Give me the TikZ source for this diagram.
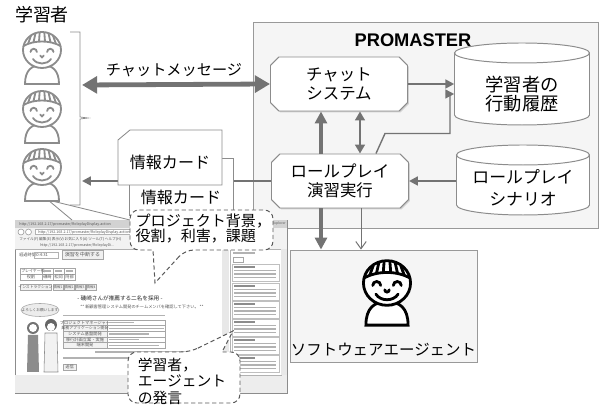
\documentclass[tikz,border=0pt]{standalone}
\usepackage{fontspec}
\setmainfont{Noto Sans CJK JP}
\newfontfamily\latinsans{Liberation Sans}
\usetikzlibrary{arrows.meta, positioning, shapes.misc, shadows, calc}

\newcommand\pxu{0.25mm}

\tikzset{
  person/.pic={
    \filldraw[pic actions, fill=white] (-17,-34) .. controls (-17,-20) and (-10,-15) .. (0,-15)
        .. controls (10,-15) and (17,-20) .. (17,-34) -- cycle;
    \filldraw[pic actions, fill=white] (0,0) ellipse[x radius=19, y radius=18];
    \draw[pic actions] (-18.5,4) .. controls (-8,10) and (8,10) .. (18.5,4);
    \foreach \xa/\ya/\xb/\yb in {-14/6/-11/14.3, -8.5/7.8/-6.5/16.8, -3/8.5/-2.3/17.8,
                                  3/8.5/2.3/17.8, 8.5/7.8/6.5/16.8, 14/6/11/14.3}
      \draw[pic actions] (\xa,\ya) -- (\xb,\yb);
    \draw[pic actions, line cap=round] (-11.5,-2) arc[start angle=180, end angle=0, radius=3.2];
    \draw[pic actions, line cap=round] (5.1,-2) arc[start angle=180, end angle=0, radius=3.2];
    \draw[pic actions, line cap=round] (-1.8,-5.5) arc[start angle=180, end angle=360, radius=1.8];
    \draw[pic actions, line cap=round] (-9,-9) .. controls (-5,-15) and (5,-15) .. (9,-9);
  }
}

\begin{document}
\begin{tikzpicture}[x=\pxu, y=\pxu,
    system/.style={draw=black!40, fill=gray!8, line width=0.6pt,
                   drop shadow={shadow xshift=1pt, shadow yshift=-1pt, opacity=.3}},
    process/.style={chamfered rectangle, chamfered rectangle xsep=3pt,
                    chamfered rectangle ysep=3pt, draw=black!45, fill=white,
                    line width=0.7pt,
                    drop shadow={shadow xshift=1pt, shadow yshift=-1pt, opacity=.3},
                    minimum width=137*\pxu, minimum height=54*\pxu, align=center,
                    font=\fontsize{11.7}{13.4}\selectfont},
    store/.style={draw=black!45, fill=white, line width=0.7pt},
    card/.style={draw=black!45, fill=white, line width=0.6pt},
    note/.style={draw=black!65, fill=white, line width=0.7pt,
                 dash pattern=on 3pt off 2pt},
    bigarrow/.style={{Triangle[length=3.8mm,width=4.2mm]}-{Triangle[length=3.8mm,width=4.2mm]},
                     line width=1.2mm, draw=black!55},
    thickarrow/.style={-{Triangle[length=3mm,width=3mm]}, line width=1mm, draw=black!55},
    pairarrow/.style={{Triangle[length=2.2mm,width=2.4mm]}-{Triangle[length=2.2mm,width=2.4mm]},
                      line width=0.6mm, draw=black!55},
    arrow/.style={-{Triangle[length=2.2mm,width=2.2mm]}, line width=0.5mm, draw=black!55},
    thinarrow/.style={-{Triangle[length=2.2mm,width=2.2mm]}, line width=0.35mm, draw=black!55},
    openarrow/.style={-{Straight Barb[length=1.8mm,width=2.6mm]}, line width=0.25mm, draw=black!55},
    tinytext/.style={font=\fontsize{3}{3.4}\selectfont, text=black!65, inner sep=0pt, anchor=west},
    bar/.style={fill=black!30},
]
\useasboundingbox (0,0) rectangle (607,405);

% PROMASTER
\node[system, minimum width=345*\pxu, minimum height=206*\pxu] (pm) at (425.5,280) {};
\node[font=\latinsans\bfseries\fontsize{13}{15}\selectfont] (pmtitle) at (413,365) {PROMASTER};

\node[process] (chat) at (339,321) {チャット\\システム};
\node[process] (role) at (340,224) {ロールプレイ\\演習実行};

\coordinate (histc) at (522,321);
\filldraw[store] ($(histc)+(-67.5,31)$) -- ++(0,-62)
    arc[start angle=180, end angle=360, x radius=67.5, y radius=10] -- ++(0,62)
    arc[start angle=0, end angle=360, x radius=67.5, y radius=10];
\node[minimum width=135*\pxu, align=center, font=\fontsize{13}{13.6}\selectfont] (hist) at (522,311) {学習者の\\行動履歴};

\coordinate (scenc) at (523,225);
\filldraw[store] ($(scenc)+(-66.5,25)$) -- ++(0,-50)
    arc[start angle=180, end angle=360, x radius=66.5, y radius=10] -- ++(0,50)
    arc[start angle=0, end angle=360, x radius=66.5, y radius=10];
\node[minimum width=133*\pxu, align=center, font=\fontsize{12}{16}\selectfont] (scen) at (523,217) {ロールプレイ\\シナリオ};

\draw[thinarrow] ($(role.north)+(36,0)$) -- ++(9,20) -- ++(65,0) |- (hist.west);
\draw[arrow] (chat.east) -- (chat.east -| hist.west);
\draw[thickarrow] ($(role.north)+(-19,0)$) coordinate (rc1) -- (rc1 |- chat.south);
\draw[pairarrow] ($(role.north)+(20,0)$) coordinate (rc2) -- (rc2 |- chat.south);
\draw[arrow] (role.east -| scen.west) -- (role.east);

% learners side
\coordinate (lrnchat) at (82,320);
\coordinate (lrncard) at (82,224);
\draw[bigarrow] (lrnchat) -- (chat.west);
\node[font=\fontsize{10.8}{12}\selectfont] (chatmsg) at (174,335) {チャットメッセージ};
\draw[arrow] (role.west) -- (lrncard);

\draw[card] (129,190) rectangle (233,247);
\node[inner sep=1pt, font=\fontsize{11.4}{12}\selectfont] (card2) at (181,208) {情報カード};
\draw[card] (118,220) -- (118,265) -- (130,275) -- (222,275) -- (222,220) -- cycle;
\node[font=\fontsize{11.4}{12}\selectfont] (card1) at (170,243) {情報カード};

% agent
\node[system, minimum width=187*\pxu, minimum height=112*\pxu] (agent) at (383.5,99) {};
\pic[draw=black, line width=2pt, scale=1.24] (agentface) at (387,122) {person};
\node[font=\fontsize{11}{12}\selectfont] (agentlbl) at (383.5,55) {ソフトウェアエージェント};
\draw[thickarrow] ($(role.south)+(-19,0)$) coordinate (rc3) -- (rc3 |- agent.north);
\draw[openarrow] ($(role.south)+(21,0)$) coordinate (rc4) -- (rc4 |- agent.north);

% browser window
\draw[black!45, fill=white, line width=0.5pt] (15,12) rectangle (287,185);
\fill[gray!35] (15.3,177) rectangle (286.7,184.7);
\node[tinytext, font=\fontsize{2.6}{3}\selectfont] (wintitle) at (19,181) {http://192.168.2.17/promaster/RoleplayDisplay.action};
\node[tinytext, font=\fontsize{2.4}{3}\selectfont, anchor=east] (winapp) at (286,181) {Explorer};
\fill[gray!10] (15.3,156) rectangle (286.7,177);
\draw[black!40, fill=white] (21,173) circle[radius=3] (28.5,173) circle[radius=3];
\draw[black!30, fill=white] (35,170.5) rectangle (262,175.5);
\node[tinytext, font=\fontsize{2.6}{3}\selectfont] (addr) at (38,173) {http://192.168.2.17/promaster/RoleplayDisplay.action};
\node[tinytext, font=\fontsize{2.6}{3}\selectfont] (menu) at (19,166) {ファイル(F) 編集(E) 表示(V) お気に入り(A) ツール(T) ヘルプ(H)};
\node[tinytext, font=\fontsize{2.6}{3}\selectfont] (tab) at (40,159.5) {http://192.168.2.17/promaster/RoleplayDi...};
\draw[black!30] (15,156) -- (287,156);
\fill[gray!14] (15.3,12.3) rectangle (286.7,30);
\fill[gray!18] (222,30) rectangle (229,156);
\draw[black!30] (230,30) rectangle (281,156);
\fill[gray!18] (281,30) rectangle (286.7,156);

\node[tinytext] (elapsed) at (19,150) {経過時間:};
\draw[black!30] (34,147) rectangle (58,153);
\node[tinytext] (clock) at (36,150) {0:4:31};
\draw[black!35, fill=gray!12] (62,146) rectangle (103,155);
\node[tinytext, anchor=center, font=\fontsize{3.6}{4}\selectfont] (stopbtn) at (82.5,150.5) {演習を中断する};

\draw[black!35] (20,125) rectangle (75,137) (20,131) -- (75,131)
    (42,125) -- (42,137) (53,125) -- (53,137) (64,125) -- (64,137);
\node[tinytext, font=\fontsize{2.8}{3}\selectfont] (player) at (21,134) {プレイヤー役};
\node[tinytext, anchor=center] (rolehead) at (31,128) {役割};
\node[tinytext, anchor=center] (pa) at (47.5,128) {磯崎};
\node[tinytext, anchor=center] (pb) at (58.5,128) {松岡};
\node[tinytext, anchor=center] (pc) at (69.5,128) {阿部};
\foreach \x in {44,55,66} \fill[bar] (\x,133.4) rectangle (\x+7,134.6);

\draw[black!35, fill=gray!10] (20,115) rectangle (51,121);
\node[tinytext, anchor=center, font=\fontsize{2.7}{3}\selectfont] (instr) at (35.5,118) {インストラクション};
\foreach \i in {1,...,4} {
  \draw[black!35, fill=gray!10] (42+11*\i,115) rectangle (52+11*\i,121);
  \node[tinytext, anchor=center, font=\fontsize{2.5}{3}\selectfont] (info\i) at (47+11*\i,118) {情報\i};
}

\node[tinytext, anchor=center, font=\fontsize{4}{4.4}\selectfont, text=black!85] (scene) at (120,107) {- 磯崎さんが推薦する二名を採用 -};
\node[tinytext, anchor=center] (confirm) at (142,98) {** 新顧客管理システム開発のチームメンバを確認して下さい。 **};
\draw[black!35, fill=gray!15] (40,95) ellipse[x radius=19, y radius=6.5];
\node[tinytext, anchor=center, font=\fontsize{2.6}{3}\selectfont] (greet) at (40,95) {よろしくお願いします};
\fill[bar] (63,88.5) rectangle (165,89.7);

\fill[gray!10] (63,57) rectangle (107,85);
\draw[black!35] (63,57) rectangle (165,85) (107,57) -- (107,85);
\foreach \y in {62.6,68.2,73.8,79.4} \draw[black!35] (63,\y) -- (165,\y);
\node[tinytext, anchor=center] (rowa) at (85,82.2) {プロジェクトマネージャー};
\node[tinytext, anchor=center, font=\fontsize{2.8}{3}\selectfont] (rowb) at (85,76.6) {業務アプリケーション開発};
\node[tinytext, anchor=center] (rowc) at (85,71) {システム基盤開発};
\node[tinytext, anchor=center] (rowd) at (85,65.4) {移行計画立案・実施};
\node[tinytext, anchor=center] (rowe) at (85,59.8) {端末開発};
\foreach \y/\w in {82.2/25, 76.6/55, 71/40, 65.4/30, 59.8/50}
  \fill[bar] (109,\y-0.6) rectangle (109+\w,\y+0.6);
\fill[bar] (95,52.4) rectangle (200,53.6);
\fill[bar] (63,46.4) rectangle (135,47.6);
\draw[black!35, fill=gray!10] (63,35) rectangle (76,41);
\node[tinytext, anchor=center] (send) at (69.5,38) {送信};

\fill[black!55] (33,77) circle[radius=6];
\fill[black!45] (27,33) -- (39,33) -- (38,70) -- (28,70) -- cycle;
\fill[white] (33,77) circle[radius=4];
\draw[black!45, fill=gray!10] (44,33) -- (58,33) -- (57,72) -- (45,72) -- cycle;
\fill[black!60] (51,80) circle[radius=6];
\fill[white] (51,78) circle[radius=4];

\fill[bar] (233,151.4) rectangle (255,152.6);
\draw[black!35] (233,143) rectangle (243,148);
\foreach \y in {141,122,104,86,68,50} {
  \draw[black!25, fill=white] (232,\y-17) rectangle (279,\y);
  \fill[black!45] (234,\y-3.6) rectangle (255,\y-2.4);
  \foreach \k in {1,2,3} \fill[bar] (234,\y-3.6-3.5*\k) rectangle (276,\y-2.4-3.5*\k);
}

% learners
\draw[black!45, line width=0.6pt] (72,185) -- (48,205) -- (130,185);
\pic[draw=black!45, line width=1.3pt] (lrna) at (42,355) {person};
\pic[draw=black!45, line width=1.3pt] (lrnb) at (42,296) {person};
\pic[draw=black!45, line width=1.3pt] (lrnc) at (42,238) {person};
\node[font=\fontsize{12.8}{14}\selectfont] (learners) at (42,390) {学習者};
\draw[black!45, line width=0.5pt] (70,373) -- (80,373) -- (80,288) -- (88,287)
    -- (80,286) -- (80,200) -- (70,200);

% callouts
\draw[note] (185,155) -- (155,122) -- (153,155) [rounded corners=2.2mm]
    -- (130,155) -- (130,195) -- (273,195) -- (273,155) -- cycle;
\node[anchor=west, align=left, inner sep=1pt, font=\fontsize{10.7}{11}\selectfont] (bgnote) at (134,176.5) {プロジェクト背景，\\役割，利害，課題};
\draw[note] (190,53) -- (233,74) -- (222,53) [rounded corners=2.2mm]
    -- (240,53) -- (240,2) -- (128,2) -- (128,53) -- cycle;
\node[anchor=west, align=left, font=\fontsize{10.5}{11.8}\selectfont] (talknote) at (133,24) {学習者，\\エージェント\\の発言};
\end{tikzpicture}
\end{document}
